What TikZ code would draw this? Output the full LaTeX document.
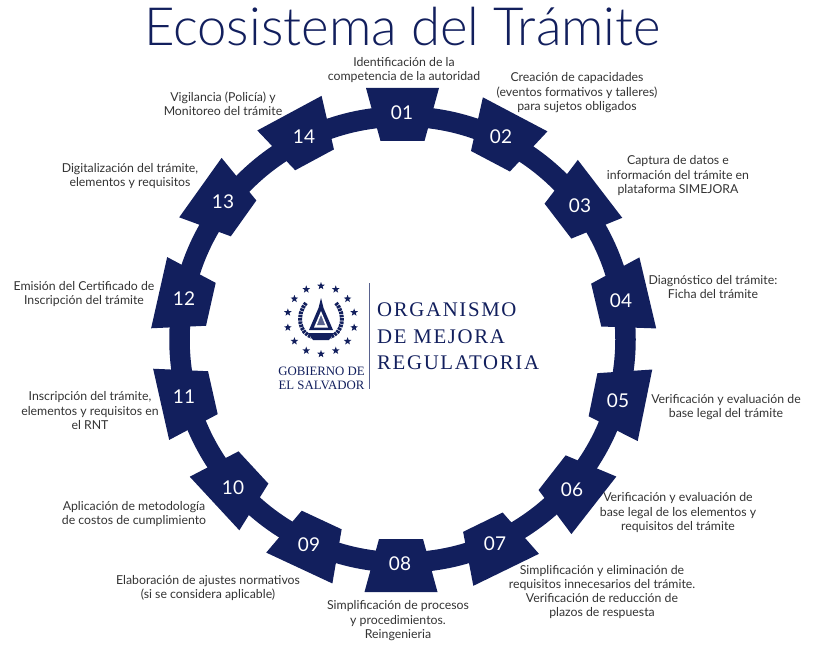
\documentclass[tikz,border=0pt]{standalone}
\usepackage{fontspec}
\setmainfont{Lato}
\newfontfamily\titlefont{Lato Light}
\newfontfamily\logofont[LetterSpace=8]{Liberation Serif}
\newfontfamily\govfont{Liberation Serif}
\usetikzlibrary{calc,shapes.geometric}
\definecolor{navy}{HTML}{121F5D}
\definecolor{labelgrey}{HTML}{333333}

\begin{document}
\begin{tikzpicture}[x=1pt,y=-1pt,
  label/.style={inner sep=0pt,yshift=-0.7pt,align=center,text=labelgrey,font=\fontsize{12.3}{14.2}\selectfont},
  badge/.style={fill=navy},
  number/.style={inner sep=0pt,text=white,font=\fontsize{19}{19}\selectfont},
  orglabel/.style={inner sep=0pt,anchor=west,text=navy,font=\logofont\fontsize{20.8}{24}\selectfont},
  govlabel/.style={inner sep=0pt,align=center,text=navy,font=\govfont\fontsize{12.8}{14}\selectfont},
  emblemstar/.style={star,star points=5,star point ratio=2.4,fill=navy,inner sep=0pt,minimum size=8pt}]
  \useasboundingbox (0,0) rectangle (821,655);
  \node[inner sep=0pt,text=navy,font=\titlefont\fontsize{52.7}{52}\selectfont] (title) at (402.5,27) {Ecosistema del Trámite};
  % ring
  \draw[navy,line width=20.5pt] (402.5,339.5) circle (223);
  % badges
  \foreach \num/\x/\y/\rot/\nx/\ny in {01/402.5/114.5/0/402/113,02/502.8/137.8/27.8/501/137,03/579/205/52.5/580/206,04/622/299/76.7/621/301,05/619/400/101.5/618/401,06/573/489/128/572/490,07/494.5/546/154/495/544,08/401/565.5/180/400/564,09/310.5/544/205/309/545,10/234/485.5/227.2/233/488,11/187/398.5/257.3/184/397,12/185/298.5/282.7/184/299,13/222/203/305.5/223/202,14/302/136.5/331.7/304/137} {
    \fill[badge,shift={(\x,\y)},rotate=-\rot] (-36.5,-26.5) -- (36.5,-26.5) -- (22,26.5) -- (-22,26.5) -- cycle;
    \node[number] (n\num) at (\nx,\ny) {\num};
  }
  % step labels
  \node[label] (l01) at (404,69) {Identificación de la\\competencia de la autoridad};
  \node[label] (l02) at (577,92) {Creación de capacidades\\(eventos formativos y talleres)\\para sujetos obligados};
  \node[label] (l03) at (678,175) {Captura de datos e\\información del trámite en\\plataforma SIMEJORA};
  \node[label] (l04) at (713,286) {Diagnóstico del trámite:\\Ficha del trámite};
  \node[label] (l05) at (726,406) {Verificación y evaluación de\\base legal del trámite};
  \node[label] (l06) at (678,512) {Verificación y evaluación de\\base legal de los elementos y\\requisitos del trámite};
  \node[label] (l07) at (602,591.5) {Simplificación y eliminación de\\requisitos innecesarios del trámite.\\Verificación de reducción de\\plazos de respuesta};
  \node[label] (l08) at (398,620) {Simplificación de procesos\\y procedimientos.\\Reingenieria};
  \node[label] (l09) at (208,587) {Elaboración de ajustes normativos\\(si se considera aplicable)};
  \node[label] (l10) at (134,513) {Aplicación de metodología\\de costos de cumplimiento};
  \node[label] (l11) at (90,410) {Inscripción del trámite,\\elementos y requisitos en\\el RNT};
  \node[label] (l12) at (84,293) {Emisión del Certificado de\\Inscripción del trámite};
  \node[label] (l13) at (130,175) {Digitalización del trámite,\\elementos y requisitos};
  \node[label] (l14) at (223,103) {Vigilancia (Policía) y\\Monitoreo del trámite};
  % logo
  \coordinate (emblem) at (321,320);
  \foreach \i in {0,...,13} {
    \node[emblemstar] (s\i) at ($(emblem)+(\i*25.714+90:34)$) {};
  }
  \draw[navy,line width=4pt,dash pattern=on 2.5pt off 0.8pt] (306,303) .. controls (296,315) and (299,333) .. (312,337);
  \draw[navy,line width=4pt,dash pattern=on 2.5pt off 0.8pt] (336,303) .. controls (346,315) and (343,333) .. (330,337);
  \fill[navy] (321,298) -- (323.5,308) -- (333,330) -- (309,330) -- (318.5,308) -- cycle;
  \fill[white] (321,311) -- (328,327.5) -- (314,327.5) -- cycle;
  \fill[navy!70] (321,315) -- (325,325) -- (317,325) -- cycle;
  \fill[navy] (308,333) -- (334,333) -- (329,340) -- (313,340) -- cycle;
  \node[govlabel] (gov) at (321.5,378) {GOBIERNO DE\\EL SALVADOR};
  \coordinate (ruletop) at (369,283);
  \coordinate (rulebot) at (369,389);
  \draw[navy!70,line width=0.7pt] (ruletop) -- (rulebot);
  \node[orglabel] (org1) at (377,310) {ORGANISMO};
  \node[orglabel] (org2) at (377,337) {DE MEJORA};
  \node[orglabel] (org3) at (377,363) {REGULATORIA};
\end{tikzpicture}
\end{document}
